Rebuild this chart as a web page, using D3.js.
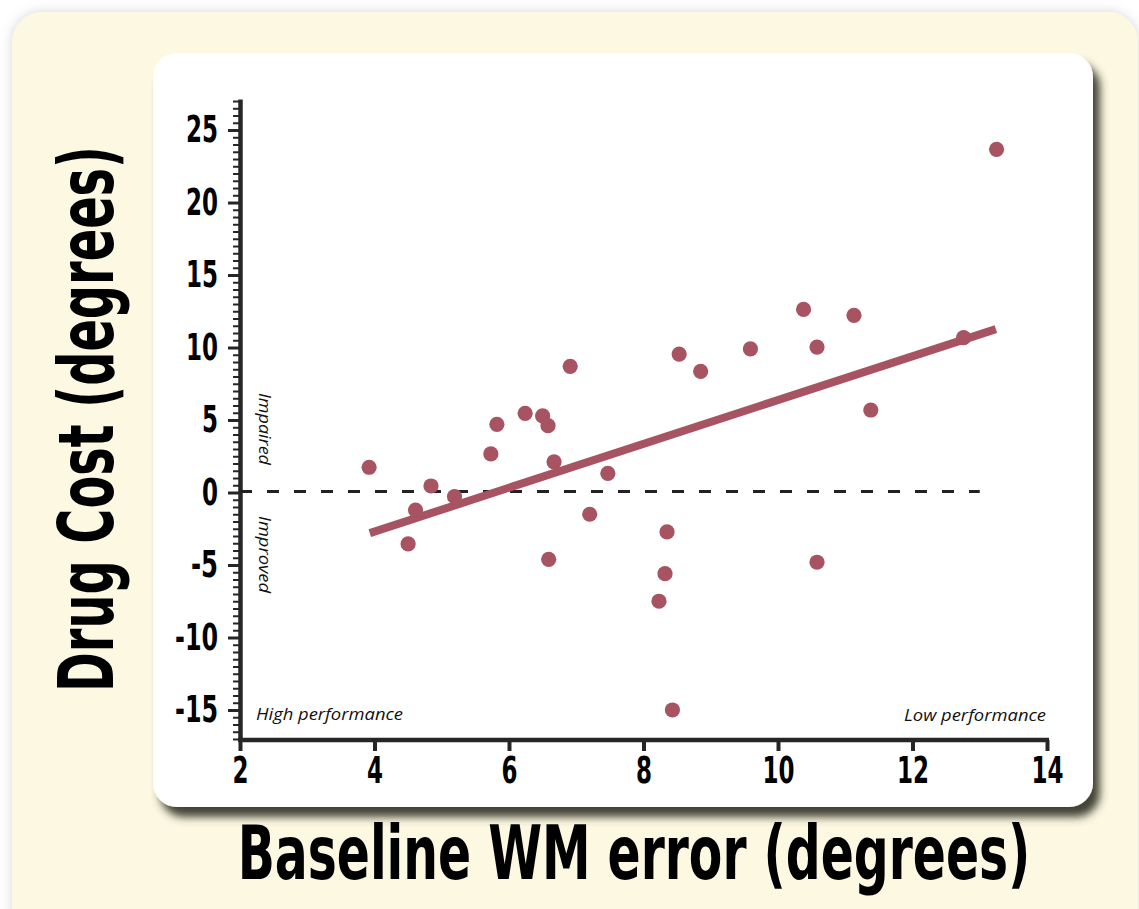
<!DOCTYPE html>
<html>
<head>
<meta charset="utf-8">
<script src="https://cdn.jsdelivr.net/npm/d3@7"></script>
<style>
  html, body { margin: 0; padding: 0; background: #ffffff; }
  svg { display: block; }
</style>
</head>
<body>
<svg id="main-svg" width="1139" height="909"></svg>
<script>
// baseline WM error (x) vs drug cost (y), one dot per subject
var baselineError = [3.92, 4.61, 4.84, 4.50, 5.19, 5.73, 5.82, 6.24, 6.50, 6.58,
                     6.67, 6.91, 6.59, 7.20, 7.47, 8.35, 8.32, 8.23, 8.43, 8.53,
                     8.85, 9.59, 10.38, 10.58, 10.58, 11.13, 11.38, 12.76, 13.25];
var drugCost = [1.74, -1.21, 0.45, -3.55, -0.29, 2.66, 4.70, 5.46, 5.28, 4.61,
                2.12, 8.70, -4.61, -1.50, 1.32, -2.72, -5.60, -7.50, -15.0, 9.55,
                8.36, 9.90, 12.63, 10.03, -4.81, 12.22, 5.69, 10.68, 23.67];

// regression line end points
var fitX = [3.93, 13.24];
var fitY = [-2.80, 11.27];

// zero reference line
var zeroX = [2, 13];

var xTicks = [2, 4, 6, 8, 10, 12, 14];
var yTicks = [-15, -10, -5, 0, 5, 10, 15, 20, 25];

var dotColor = '#a85361';
var axisColor = '#262626';
var boldFont = '"Liberation Sans Narrow", "DejaVu Sans Condensed", "Arial Narrow", sans-serif';
var italicFont = '"Open Sans", "Noto Sans", sans-serif';

// narrow bold-condensed look: squeeze each label to its measured width
function labelWidth(s) {
    var w = 0;
    for (var i = 0; i < s.length; i++) w += (s[i] == '-') ? 11 : 16;
    return w;
}

// squeeze a big title horizontally so it spans `len` pixels
function squeezeTitle(sel, len) {
    var natural = sel.node().getComputedTextLength();
    var k = len / natural;
    sel.attr('transform', sel.attr('transform') + ' scale(' + k + ',1)');
}

var svg = d3.select('#main-svg');
var defs = svg.append('defs');

var outerShadow = defs.append('filter')
    .attr('id', 'outer_shadow')
    .attr('x', '-5%').attr('y', '-5%')
    .attr('width', '110%').attr('height', '110%');
outerShadow.append('feDropShadow')
    .attr('dx', 0).attr('dy', 0)
    .attr('stdDeviation', 6)
    .attr('flood-color', '#888888')
    .attr('flood-opacity', 0.35);

var panelShadow = defs.append('filter')
    .attr('id', 'panel_shadow')
    .attr('x', '-5%').attr('y', '-5%')
    .attr('width', '115%').attr('height', '115%');
panelShadow.append('feDropShadow')
    .attr('dx', 7).attr('dy', 10)
    .attr('stdDeviation', 4)
    .attr('flood-color', '#3a3a2c')
    .attr('flood-opacity', 0.95);

// cream card
svg.append('rect')
    .attr('x', 12)
    .attr('y', 12)
    .attr('width', 1126)
    .attr('height', 960)
    .attr('rx', 30)
    .attr('ry', 30)
    .attr('fill', '#fcf8e2')
    .attr('filter', 'url(#outer_shadow)');

// white plot panel
svg.append('rect')
    .attr('x', 153)
    .attr('y', 53)
    .attr('width', 940)
    .attr('height', 754)
    .attr('rx', 24)
    .attr('ry', 24)
    .attr('fill', '#ffffff')
    .attr('filter', 'url(#panel_shadow)');

var x = d3.scaleLinear().domain([2, 14]).range([240, 1047]);
var y = d3.scaleLinear().domain([-17.07, 27.14]).range([740, 99]);

// y axis: minor ticks every 0.5, major every 5
var yMinor = svg.append('g')
    .attr('transform', 'translate(' + x(2) + ',0)')
    .call(d3.axisLeft(y)
        .tickValues(d3.range(-17, 27.01, 0.5))
        .tickSize(7)
        .tickSizeOuter(0)
        .tickFormat(''));
yMinor.selectAll('.tick line').attr('stroke', axisColor).attr('stroke-width', 2);
yMinor.select('.domain').attr('stroke', axisColor).attr('stroke-width', 4.5);

var yMajor = svg.append('g')
    .attr('transform', 'translate(' + x(2) + ',0)')
    .call(d3.axisLeft(y)
        .tickValues(yTicks)
        .tickSize(12)
        .tickPadding(10)
        .tickSizeOuter(0)
        .tickFormat(function(d) { return String(d); }));
yMajor.select('.domain').remove();
yMajor.selectAll('.tick line').attr('stroke', axisColor).attr('stroke-width', 3);
yMajor.selectAll('.tick text')
    .attr('fill', '#000')
    .attr('textLength', function(d) { return labelWidth(String(d)); })
    .attr('lengthAdjust', 'spacingAndGlyphs')
    .style('font-family', boldFont)
    .style('font-weight', 'bold')
    .style('font-size', '37px');

// x axis
var xAxis = svg.append('g')
    .attr('transform', 'translate(0,' + y(-17.07) + ')')
    .call(d3.axisBottom(x)
        .tickValues(xTicks)
        .tickSize(11)
        .tickPadding(6)
        .tickSizeOuter(0)
        .tickFormat(function(d) { return String(d); }));
xAxis.select('.domain').attr('stroke', axisColor).attr('stroke-width', 4.5)
    .attr('d', 'M' + (x(2) - 2) + ',0H' + (x(14) + 2));
xAxis.selectAll('.tick line').attr('stroke', axisColor).attr('stroke-width', 4);
xAxis.selectAll('.tick text')
    .attr('fill', '#000')
    .attr('textLength', function(d) { return labelWidth(String(d)); })
    .attr('lengthAdjust', 'spacingAndGlyphs')
    .style('font-family', boldFont)
    .style('font-weight', 'bold')
    .style('font-size', '37px');

// dashed zero line
svg.append('line')
    .attr('x1', x(zeroX[0]))
    .attr('x2', x(zeroX[1]))
    .attr('y1', y(0) - 1)
    .attr('y2', y(0) - 1)
    .attr('stroke', '#222')
    .attr('stroke-width', 3)
    .attr('stroke-dasharray', '12,15');

// regression line
svg.append('line')
    .attr('x1', x(fitX[0]))
    .attr('y1', y(fitY[0]))
    .attr('x2', x(fitX[1]))
    .attr('y2', y(fitY[1]))
    .attr('stroke', dotColor)
    .attr('stroke-width', 8);

// dots
svg.append('g')
    .selectAll('circle')
    .data(baselineError)
    .join('circle')
    .attr('cx', function(d) { return x(d); })
    .attr('cy', function(d, i) { return y(drugCost[i]); })
    .attr('r', 7.6)
    .attr('fill', dotColor);

// small italic annotations
function note(text, tx, ty, rot, anchor, len) {
    svg.append('text')
        .attr('transform', 'translate(' + tx + ',' + ty + ') rotate(' + rot + ')')
        .attr('text-anchor', anchor)
        .attr('textLength', len)
        .attr('lengthAdjust', 'spacingAndGlyphs')
        .style('font-family', italicFont)
        .style('font-style', 'italic')
        .style('font-size', '17px')
        .attr('fill', '#111')
        .text(text);
}
note('Impaired', 259, 393, 90, 'start', 72);
note('Improved', 259, 516, 90, 'start', 77);
note('High performance', 256, 720, 0, 'start', 147);
note('Low performance', 1046, 721, 0, 'end', 142);

// axis titles
var yTitle = svg.append('text')
    .attr('transform', 'translate(113,419) rotate(-90)')
    .attr('text-anchor', 'middle')
    .style('font-family', boldFont)
    .style('font-weight', 'bold')
    .style('font-size', '76px')
    .attr('fill', '#000')
    .text('Drug Cost (degrees)');
squeezeTitle(yTitle, 546);

var xTitle = svg.append('text')
    .attr('transform', 'translate(634,879)')
    .attr('text-anchor', 'middle')
    .style('font-family', boldFont)
    .style('font-weight', 'bold')
    .style('font-size', '75px')
    .attr('fill', '#000')
    .text('Baseline WM error (degrees)');
squeezeTitle(xTitle, 793);
</script>
</body>
</html>
